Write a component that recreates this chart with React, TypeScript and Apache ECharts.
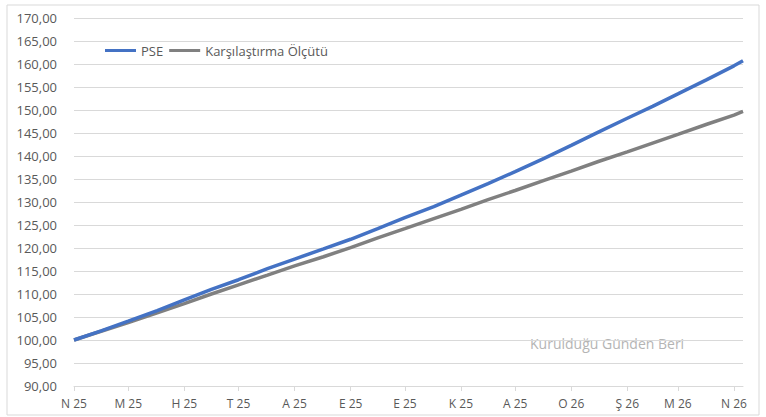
import React, { useEffect, useRef } from "react";
import * as echarts from "echarts";

// Day offsets since 1 Apr 2025 for the sampled points
const days = [0, 15, 30, 46, 61, 76, 91, 107, 122, 138, 153, 168, 183, 199, 214, 229, 244, 260, 275, 290, 306, 320, 334, 350, 365, 370];
const pseValues = [100.0, 102.0, 104.1, 106.4, 108.7, 111.0, 113.1, 115.5, 117.6, 119.8, 121.9, 124.2, 126.6, 129.0, 131.5, 134.0, 136.6, 139.5, 142.3, 145.2, 148.2, 150.8, 153.5, 156.6, 159.6, 160.7];
const benchValues = [100.0, 101.9, 103.8, 105.9, 107.9, 110.0, 112.0, 114.1, 116.1, 118.1, 120.1, 122.2, 124.2, 126.4, 128.4, 130.5, 132.5, 134.7, 136.7, 138.8, 140.9, 142.8, 144.7, 146.9, 148.9, 149.7];

// Month starts (day offsets) and their labels
const monthDays = [0, 30, 61, 91, 122, 153, 183, 214, 244, 275, 306, 334, 365];
const monthLabels = ["N 25", "M 25", "H 25", "T 25", "A 25", "E 25", "E 25", "K 25", "A 25", "O 26", "Ş 26", "M 26", "N 26"];

const seriesNames = ["PSE", "Karşılaştırma Ölçütü"];
const watermark = "Kurulduğu Günden Beri";

const FONT = "'Open Sans', 'Noto Sans', sans-serif";

export default function App() {
  const ref = useRef<HTMLDivElement>(null);

  useEffect(() => {
    if (!ref.current) return;
    const chart = echarts.init(ref.current, undefined, { renderer: "svg" });
    chart.setOption({
      animation: false,
      backgroundColor: "#ffffff",
      grid: { left: 74, right: 23, top: 18, bottom: 31, containLabel: false },
      legend: {
        left: 100,
        top: 39,
        itemWidth: 31,
        itemHeight: 3,
        itemGap: 6,
        icon: "rect",
        textStyle: { color: "#595959", fontSize: 13, fontFamily: FONT },
        data: seriesNames,
      },
      xAxis: {
        type: "value",
        min: 0,
        max: 370,
        axisLine: { show: true, lineStyle: { color: "#d9d9d9", width: 1 } },
        axisTick: {
          show: true,
          length: 5,
          lineStyle: { color: "#d9d9d9" },
          customValues: monthDays,
        },
        splitLine: { show: false },
        axisLabel: {
          customValues: monthDays,
          margin: 11,
          color: "#595959",
          fontSize: 12,
          fontFamily: FONT,
          formatter: (v: number) => {
            const i = monthDays.indexOf(Math.round(v));
            return i >= 0 ? monthLabels[i] : "";
          },
        },
      },
      yAxis: {
        type: "value",
        min: 90,
        max: 170,
        interval: 5,
        axisLine: { show: false },
        axisTick: { show: false },
        splitLine: { lineStyle: { color: "#d9d9d9", width: 1 } },
        axisLabel: {
          margin: 17,
          color: "#595959",
          fontSize: 13,
          fontFamily: FONT,
          formatter: (v: number) => v.toFixed(2).replace(".", ","),
        },
      },
      series: [
        {
          name: seriesNames[0],
          type: "line",
          showSymbol: false,
          symbol: "none",
          z: 3,
          lineStyle: { color: "#4472C4", width: 3.5 },
          itemStyle: { color: "#4472C4" },
          data: days.map((d, i) => [d, pseValues[i]]),
        },
        {
          name: seriesNames[1],
          type: "line",
          showSymbol: false,
          symbol: "none",
          z: 2,
          lineStyle: { color: "#808080", width: 3.5 },
          itemStyle: { color: "#808080" },
          data: days.map((d, i) => [d, benchValues[i]]),
        },
      ],
      graphic: [
        {
          type: "rect",
          shape: { x: 7, y: 5, width: 752, height: 410 },
          style: { fill: "none", stroke: "#d9d9d9", lineWidth: 1 },
          silent: true,
          z: -1,
        },
        {
          type: "text",
          x: 530,
          y: 336,
          style: {
            text: watermark,
            fill: "#b4b4b4",
            fontSize: 14,
            fontFamily: FONT,
          },
          silent: true,
        },
      ],
    });
    return () => chart.dispose();
  }, []);

  return (
    <div
      ref={ref}
      style={{ position: "fixed", left: 0, top: 0, width: 766, height: 417, background: "#fff" }}
    />
  );
}
